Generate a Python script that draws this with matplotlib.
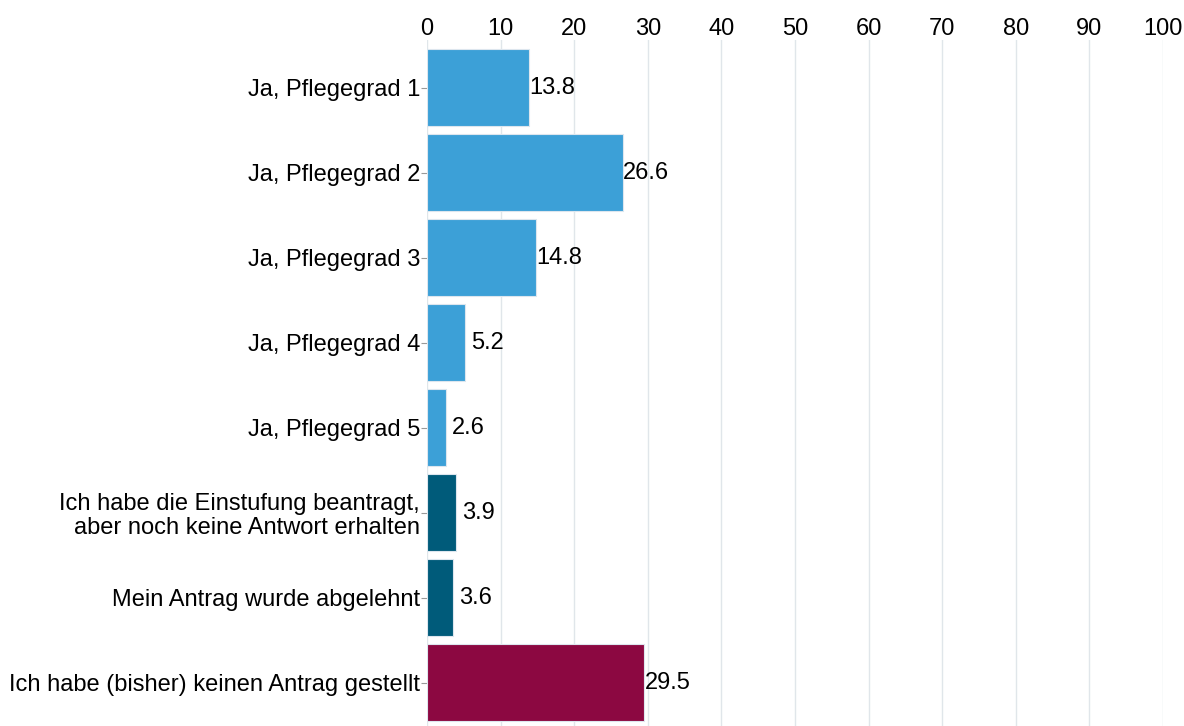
import matplotlib.pyplot as plt

plt.rcParams['font.family'] = ['Liberation Sans', 'DejaVu Sans']

labels = ['Ja, Pflegegrad 1', 'Ja, Pflegegrad 2', 'Ja, Pflegegrad 3',
          'Ja, Pflegegrad 4', 'Ja, Pflegegrad 5',
          'Ich habe die Einstufung beantragt,\naber noch keine Antwort erhalten',
          'Mein Antrag wurde abgelehnt',
          'Ich habe (bisher) keinen Antrag gestellt']
values = [13.8, 26.6, 14.8, 5.2, 2.6, 3.9, 3.6, 29.5]
colors = ['#3ca0d7'] * 5 + ['#005b7a'] * 2 + ['#8c0841']

fig = plt.figure(figsize=(11.84, 7.26), dpi=100)
ax = fig.add_axes([427 / 1184, 0, (1163 - 427) / 1184, 686 / 726])

pos = list(range(len(labels)))
ax.barh(pos, values, height=0.9, color=colors, edgecolor='#dde6ee', linewidth=0.8, zorder=2)
for p, v in zip(pos, values):
    off = 0.8 if v < 10 else 0.05
    ax.text(v + off, p, f'{v:.1f}', va='center', ha='left', fontsize=17, color='black')

ax.set_xlim(0, 100)
ax.set_ylim(7.51, -0.559)
ax.set_xticks(range(0, 101, 10))
ax.xaxis.tick_top()
ax.tick_params(axis='x', length=0, labelsize=17, pad=0)
ax.set_yticks(pos)
ax.set_yticklabels(labels, fontsize=17, linespacing=1.1)
ax.tick_params(axis='y', length=4, color='#999999', pad=1)
ax.grid(axis='x', color='#e0e6ea', linewidth=1, zorder=0)
for s in ax.spines.values():
    s.set_visible(False)

plt.savefig('out.png', dpi=100)
